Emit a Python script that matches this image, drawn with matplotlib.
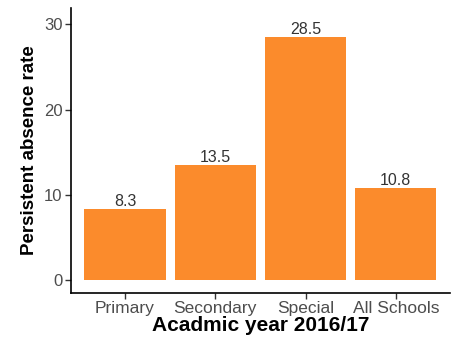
import matplotlib
matplotlib.use("Agg")
import matplotlib.pyplot as plt

plt.rcParams["font.family"] = ["Liberation Sans", "DejaVu Sans"]

categories = ["Primary", "Secondary", "Special", "All Schools"]
rates = [8.3, 13.5, 28.5, 10.8]
yticks = [0, 10, 20, 30]

fig = plt.figure(figsize=(4.63, 3.52), dpi=100)
ax = fig.add_axes([0.153, 0.168, 0.819, 0.809])

xs = list(range(1, len(categories) + 1))
ax.bar(xs, rates, width=0.9, color="#FB8B2C")
for x, v in zip(xs, rates):
    ax.text(x, v, f"{v}", ha="center", va="bottom", fontsize=11.5, color="#333333")

ax.set_xlim(0.4, 4.6)
ax.set_ylim(-1.5, 31.9)
ax.set_xticks(xs)
ax.set_xticklabels(categories)
ax.set_yticks(yticks)
ax.tick_params(colors="#333333", labelcolor="#4D4D4D", length=4, width=1)
ax.tick_params(axis="x", labelsize=12.5, pad=2)
ax.tick_params(axis="y", labelsize=12, pad=2)
for side in ["top", "right"]:
    ax.spines[side].set_visible(False)
for side in ["left", "bottom"]:
    ax.spines[side].set_linewidth(1.2)

ax.set_xlabel("Acadmic year 2016/17", fontsize=15, fontweight="bold", labelpad=0)
ax.set_ylabel("Persistent absence rate", fontsize=13.5, fontweight="bold", labelpad=4)

fig.savefig("out.png", dpi=100)
